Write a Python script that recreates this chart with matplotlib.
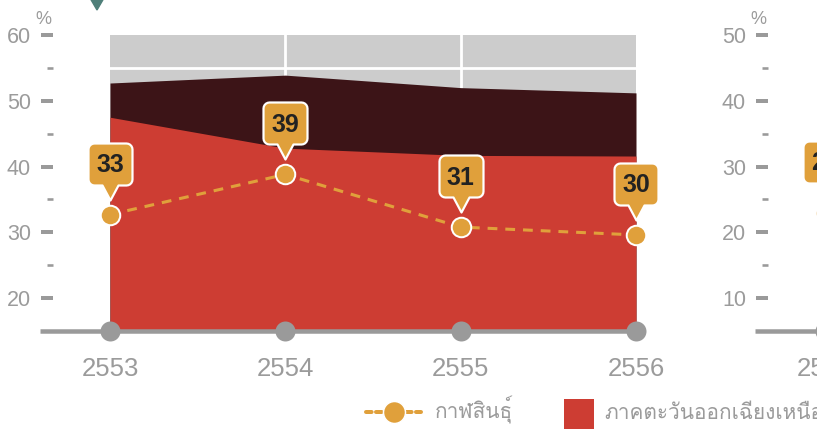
import numpy as np
import matplotlib
matplotlib.use("Agg")
import matplotlib.pyplot as plt
import matplotlib.font_manager as fm
from matplotlib.ft2font import FT2Font
from matplotlib.path import Path
from matplotlib.lines import Line2D
from matplotlib.patches import Rectangle, Polygon

# ---------------- data ----------------
years = ["2553", "2554", "2555", "2556"]
province_pct = [32.7, 38.8, 30.8, 29.6]        # กาฬสินธุ์ (dashed line)
northeast_pct = [47.5, 42.8, 41.7, 41.6]       # ภาคตะวันออกเฉียงเหนือ (red area)
top_band_pct = [52.7, 53.9, 52.0, 51.2]        # dark band upper edge
second_chart_first = [23]                      # partially visible right chart
legend_labels = ["กาฬสินธุ์", "ภาคตะวันออกเฉียงเหนือ"]

# ---------------- fonts ----------------
thai_candidates = []
for f in fm.fontManager.ttflist:
    try:
        cmap = FT2Font(f.fname).get_charmap()
        if 0x0E01 in cmap and 0x0E2C in cmap and 0x0E38 in cmap:
            thai_candidates.append(f.name)
    except Exception:
        pass
thai_family = None
for pref in ["Loma", "Waree", "Garuda", "Sawasdee", "Umpush"]:
    if pref in thai_candidates:
        thai_family = pref
        break
if thai_family is None and thai_candidates:
    thai_family = sorted(set(thai_candidates))[0]
thai_fonts = [thai_family, "DejaVu Sans"] if thai_family else ["DejaVu Sans"]
plt.rcParams["font.family"] = ["Liberation Sans", "DejaVu Sans"]

# ---------------- colours ----------------
RED = "#CD3D33"
DARK = "#3C1417"
BG = "#CCCCCC"
ORANGE = "#E0A03B"
AXGREY = "#9A9A9A"
TXTGREY = "#9B9B9B"
TEAL = "#4F7F79"

W, H = 817, 429
DPI = 100
fig = plt.figure(figsize=(W / DPI, H / DPI), dpi=DPI)
fig.patch.set_facecolor("white")

def fx(px):
    return px / W

def fy(py):
    return 1 - py / H

PT = 0.72  # points per pixel

# callout marker shape (pixels, y up, relative to the point)
def callout_path():
    r = 6
    hw, yb, yt, tip, pw = 22, 30, 72, 15, 8
    verts, codes = [], []
    def arc(cx, cy, a0, a1, n=6):
        for a in np.linspace(a0, a1, n):
            verts.append((cx + r * np.cos(a), cy + r * np.sin(a)))
            codes.append(Path.LINETO)
    verts.append((0, tip)); codes.append(Path.MOVETO)
    verts.append((pw, yb)); codes.append(Path.LINETO)
    verts.append((hw - r, yb)); codes.append(Path.LINETO)
    arc(hw - r, yb + r, -np.pi / 2, 0)
    verts.append((hw, yt - r)); codes.append(Path.LINETO)
    arc(hw - r, yt - r, 0, np.pi / 2)
    verts.append((-hw + r, yt)); codes.append(Path.LINETO)
    arc(-hw + r, yt - r, np.pi / 2, np.pi)
    verts.append((-hw, yb + r)); codes.append(Path.LINETO)
    arc(-hw + r, yb + r, np.pi, 1.5 * np.pi)
    verts.append((-pw, yb)); codes.append(Path.LINETO)
    verts.append((0, tip)); codes.append(Path.CLOSEPOLY)
    return Path(verts, codes), yt

CALLOUT, CALLOUT_MAX = callout_path()

def style_axes(ax, ylo, yhi, majors, minors):
    ax.set_xlim(0, 3)
    ax.set_ylim(ylo, yhi)
    ax.set_facecolor(BG)
    for s in ax.spines.values():
        s.set_visible(False)
    ax.spines["left"].set_position(("outward", 57 * PT))
    ax.set_yticks(majors)
    ax.set_yticks(minors, minor=True)
    ax.tick_params(axis="y", which="major", direction="out", length=12 * PT,
                   width=4 * PT, color=AXGREY, labelcolor=TXTGREY,
                   labelsize=15.5, pad=10 * PT)
    ax.tick_params(axis="y", which="minor", direction="out", length=6 * PT,
                   width=2.6 * PT, color=AXGREY)
    ax.set_xticks(range(len(years)), labels=years)
    ax.tick_params(axis="x", length=0, labelcolor=TXTGREY, labelsize=18.5,
                   pad=19)
    # baseline
    ax.plot([-70 / (526 / 3), 3], [ylo, ylo], color=AXGREY, lw=4.5 * PT,
            solid_capstyle="butt", clip_on=False, zorder=6)
    ax.plot(range(len(years)), [ylo] * len(years), "o", color=AXGREY,
            ms=20 * PT, mec="none", clip_on=False, zorder=7)

def callouts(ax, xs, vals):
    ax.plot(xs, vals, ls="none", marker=CALLOUT, ms=2 * CALLOUT_MAX * PT,
            mfc=ORANGE, mec="white", mew=2.2 * PT, clip_on=False, zorder=8)
    for x, v in zip(xs, vals):
        ax.annotate(f"{round(v)}", (x, v), xytext=(0, 42.5 * PT),
                    textcoords="offset points", ha="center", va="baseline",
                    fontsize=18, fontweight="bold", color="#222222",
                    annotation_clip=False, zorder=9)
    ax.plot(xs, vals, ls="none", marker="o", ms=19.5 * PT, mfc=ORANGE,
            mec="white", mew=2 * PT, clip_on=False, zorder=10)

# ---------------- main chart ----------------
ax = fig.add_axes([fx(110), fy(331), 526 / W, 296 / H])
style_axes(ax, 15, 60, [20, 30, 40, 50, 60], [25, 35, 45, 55])
x = np.arange(len(years))
for gx in x[1:-1]:
    ax.axvline(gx, color="white", lw=2, zorder=0.5)
ax.axhline(55, color="white", lw=2, zorder=0.5)
ax.fill_between(x, 15, top_band_pct, color=DARK, lw=0, zorder=1)
ax.fill_between(x, 15, northeast_pct, color=RED, lw=0, zorder=2)
ax.plot(x, province_pct, color=ORANGE, lw=2.2, ls=(0, (3.2, 2.6)), zorder=3)
callouts(ax, x, province_pct)
fig.text(fx(43), fy(19), "%", ha="center", va="center", fontsize=13,
         color=TXTGREY)

# ---------------- second (cropped) chart ----------------
ax2 = fig.add_axes([fx(825), fy(331), 526 / W, 296 / H])
style_axes(ax2, 5, 50, [10, 20, 30, 40, 50], [15, 25, 35, 45])
callouts(ax2, [0], second_chart_first)
fig.text(fx(758), fy(19), "%", ha="center", va="center", fontsize=13,
         color=TXTGREY)

# ---------------- teal marker at top ----------------
fig.add_artist(Polygon([(fx(90), fy(-2)), (fx(104), fy(-2)), (fx(97), fy(10))],
                       closed=True, transform=fig.transFigure, color=TEAL))

# ---------------- legend ----------------
fig.add_artist(Line2D([fx(366), fx(421)], [fy(412), fy(412)],
                      transform=fig.transFigure, color=ORANGE, lw=4 * PT,
                      ls=(0, (1.4, 1.1)), dash_capstyle="round"))
fig.add_artist(Line2D([fx(393.5)], [fy(412)], transform=fig.transFigure,
                      marker="o", ms=22 * PT, mfc=ORANGE, mec="white",
                      mew=1.5 * PT, ls="none"))
fig.text(fx(435), fy(419), legend_labels[0], ha="left", va="baseline",
         fontsize=15, color=TXTGREY, family=thai_fonts)
fig.add_artist(Rectangle((fx(564), fy(429)), 30 / W, 30 / H,
                         transform=fig.transFigure, color=RED, lw=0))
fig.text(fx(604), fy(419), legend_labels[1], ha="left", va="baseline",
         fontsize=15, color=TXTGREY, family=thai_fonts)

fig.savefig("out.png", dpi=DPI)
